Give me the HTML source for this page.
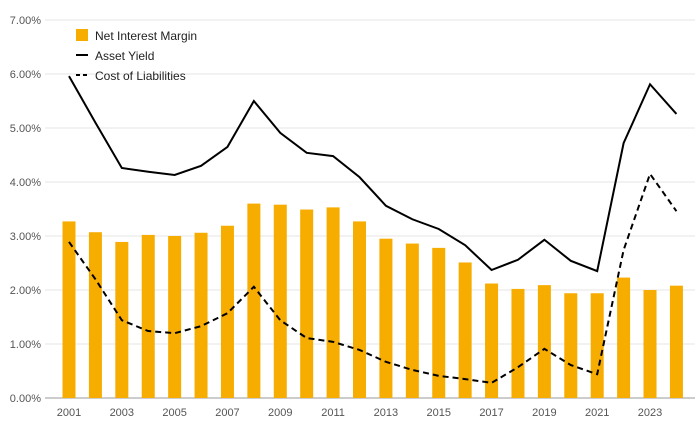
<!DOCTYPE html>
<html><head><meta charset="utf-8"><style>
body{margin:0;background:#fff;font-family:"Liberation Sans",sans-serif}
svg text{font-family:"Liberation Sans",sans-serif}
</style></head><body>
<svg id="chart" width="700" height="433" xmlns="http://www.w3.org/2000/svg">
<g id="grid"></g>
<g id="bars"></g>
<g id="lines"></g>
<g id="axes"></g>
<g>
<rect x="76" y="29" width="12" height="12" fill="#f7ac00"/>
<text x="95" y="40" font-size="12" fill="#222">Net Interest Margin</text>
<line x1="76" y1="55" x2="88" y2="55" stroke="#000" stroke-width="2"/>
<text x="95" y="60" font-size="12" fill="#222">Asset Yield</text>
<line x1="76" y1="75" x2="88" y2="75" stroke="#000" stroke-width="2" stroke-dasharray="4,3"/>
<text x="95" y="80" font-size="12" fill="#222">Cost of Liabilities</text>
</g>
</svg>
<script>
const years=[2001,2002,2003,2004,2005,2006,2007,2008,2009,2010,2011,2012,2013,2014,2015,2016,2017,2018,2019,2020,2021,2022,2023,2024];
const nim=[3.27,3.07,2.89,3.02,3.00,3.06,3.19,3.60,3.58,3.49,3.53,3.27,2.95,2.86,2.78,2.51,2.12,2.02,2.09,1.94,1.94,2.23,2.00,2.08];
const assetYield=[5.96,5.10,4.26,4.19,4.13,4.30,4.65,5.50,4.91,4.54,4.48,4.09,3.56,3.31,3.13,2.83,2.37,2.56,2.93,2.54,2.35,4.72,5.81,5.26];
const costLiab=[2.89,2.20,1.44,1.24,1.20,1.33,1.57,2.06,1.44,1.11,1.04,0.89,0.67,0.52,0.41,0.35,0.28,0.57,0.91,0.61,0.44,2.74,4.15,3.46];
const yTicks=[0,1,2,3,4,5,6,7];
const xLabelYears=[2001,2003,2005,2007,2009,2011,2013,2015,2017,2019,2021,2023];
const NS="http://www.w3.org/2000/svg";
const y0=398,pxPerPct=54,x0=69,pxPerYear=26.41;
const Y=v=>y0-v*pxPerPct;
const X=yr=>x0+(yr-2001)*pxPerYear;
function mk(tag,attrs,parent){const e=document.createElementNS(NS,tag);for(const k in attrs)e.setAttribute(k,attrs[k]);parent.appendChild(e);return e;}
const grid=document.getElementById('grid'),bars=document.getElementById('bars'),lines=document.getElementById('lines'),axes=document.getElementById('axes');
yTicks.forEach(t=>{
 const l=mk('line',{x1:45,x2:695,y1:Y(t),y2:Y(t),stroke:t===0?'#999':'#e6e6e6','stroke-width':1},grid);
 
 
 const tx=mk('text',{x:41,y:Y(t)+4,'font-size':11,fill:'#555','text-anchor':'end'},axes);
 tx.textContent=t.toFixed(2)+'%';
 
 
});
xLabelYears.forEach(yr=>{
 const tx=mk('text',{x:X(yr),y:416,'font-size':11,fill:'#555','text-anchor':'middle'},axes);
 tx.textContent=yr;
 
 
});
years.forEach((yr,i)=>{
 const r=mk('rect',{x:X(yr)-6.5,y:Y(nim[i]),width:13,height:nim[i]*pxPerPct,fill:'#f7ac00'},bars);
 
 
});
const pts=a=>a.map((v,i)=>X(years[i])+','+Y(v)).join(' ');
const l1=mk('polyline',{points:pts(assetYield),fill:'none',stroke:'#000','stroke-width':2},lines);


const l2=mk('polyline',{points:pts(costLiab),fill:'none',stroke:'#000','stroke-width':2,'stroke-dasharray':'6,4'},lines);


</script>
</body></html>
